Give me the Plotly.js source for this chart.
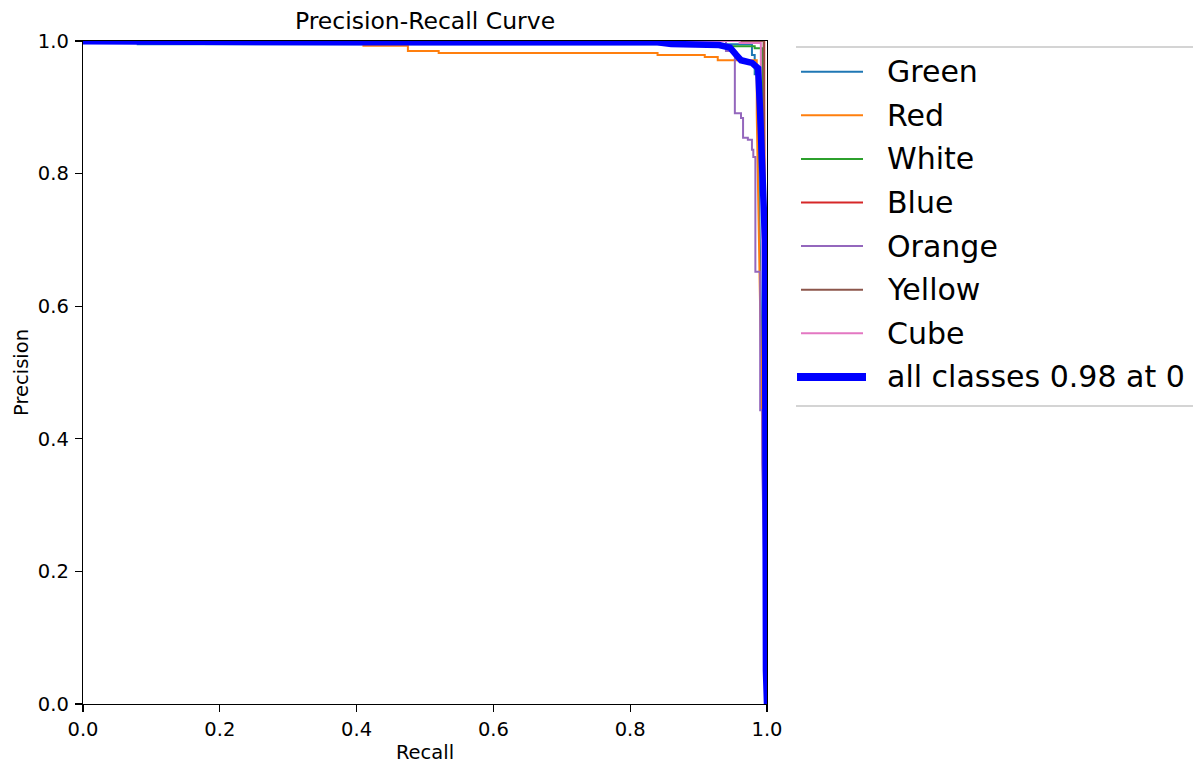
<!DOCTYPE html>
<html>
<head>
<meta charset="utf-8">
<script src="https://cdn.plot.ly/plotly-3.0.1.min.js"></script>
<style>html,body{margin:0;padding:0;background:#fff;}#chart{width:1193px;height:764px;}</style>
</head>
<body>
<div id="chart"></div>
<script>
// ---- data ----
const classNames = ["Green", "Red", "White", "Blue", "Orange", "Yellow", "Cube"];
const classColors = ["#1f77b4", "#ff7f0e", "#2ca02c", "#d62728", "#9467bd", "#8c564b", "#e377c2"];

const greenRecall    = [0, 0.08, 0.08, 0.978, 0.978, 0.982, 0.982, 0.986, 0.986, 1.0];
const greenPrecision = [1, 1, 0.995, 0.995, 0.979, 0.979, 0.95, 0.95, 0.93, 0];

const redRecall    = [0, 0.41, 0.41, 0.475, 0.475, 0.52, 0.52, 0.84, 0.84, 0.909, 0.909, 0.928, 0.928, 0.985, 0.985, 1.0];
const redPrecision = [1, 1, 0.993, 0.993, 0.985, 0.985, 0.982, 0.982, 0.979, 0.979, 0.976, 0.976, 0.971, 0.971, 0.89, 0];

const whiteRecall    = [0, 0.93, 0.93, 0.982, 0.982, 0.993, 1.0];
const whitePrecision = [1, 1, 0.992, 0.992, 0.989, 0.989, 0];

const blueRecall    = [0, 0.996, 0.996, 1.0];
const bluePrecision = [1, 1, 0.92, 0];

const orangeRecall    = [0, 0.94, 0.94, 0.953, 0.953, 0.962, 0.962, 0.965, 0.965, 0.972, 0.972, 0.978, 0.978, 0.98, 0.98, 0.983, 0.983, 0.99, 0.99, 0.993, 0.993, 1.0];
const orangePrecision = [1, 1, 0.985, 0.985, 0.891, 0.891, 0.884, 0.884, 0.854, 0.854, 0.851, 0.851, 0.836, 0.836, 0.825, 0.825, 0.652, 0.652, 0.443, 0.443, 0.363, 0];

const yellowRecall    = [0, 0.995, 0.995, 1.0];
const yellowPrecision = [1, 1, 0.94, 0];

const cubeRecall    = [0, 0.96, 0.96, 0.991, 0.991, 1.0];
const cubePrecision = [1, 1, 0.997, 0.997, 0.945, 0];

const allName = "all classes 0.98 at 0";
const allRecall    = [0, 0.08, 0.41, 0.84, 0.86, 0.93, 0.946, 0.955, 0.962, 0.978, 0.987, 0.99, 0.997, 0.9985, 1.0];
const allPrecision = [0.9995, 0.999, 0.998, 0.998, 0.9955, 0.994, 0.99, 0.979, 0.971, 0.967, 0.959, 0.891, 0.70, 0.05, 0];

const xTicks = [0, 0.2, 0.4, 0.6, 0.8, 1.0];
const yTicks = [0, 0.2, 0.4, 0.6, 0.8, 1.0];

// ---- build ----
const classRecalls = [greenRecall, redRecall, whiteRecall, blueRecall, orangeRecall, yellowRecall, cubeRecall];
const classPrecisions = [greenPrecision, redPrecision, whitePrecision, bluePrecision, orangePrecision, yellowPrecision, cubePrecision];

const FONT = "DejaVu Sans, Liberation Sans, sans-serif";
const traces = classNames.map((n, i) => ({
  type: "scatter", mode: "lines", name: n,
  x: classRecalls[i], y: classPrecisions[i],
  line: {color: classColors[i], width: 2},
  showlegend: false
}));
traces.push({
  type: "scatter", mode: "lines", name: allName,
  x: allRecall, y: allPrecision,
  line: {color: "#0000ff", width: 6.5},
  showlegend: false
});

// plot-area pixel frame
const L = 83, R = 767, T = 41, B = 704, W = 1193, H = 764;
const px = v => (v - L) / (R - L);
const py = v => (B - v) / (B - T);

// hand-made matplotlib-style legend
const shapes = [];
const annotations = [];
const rowY0 = 71.7, rowStep = 43.6;
const legendNames = classNames.concat([allName]);
const legendColors = classColors.concat(["#0000ff"]);
legendNames.forEach((n, i) => {
  const y = rowY0 + i * rowStep;
  const thick = i === legendNames.length - 1;
  shapes.push({type: "line", xref: "paper", yref: "paper",
    x0: px(thick ? 797 : 801), x1: px(thick ? 866 : 863), y0: py(y), y1: py(y),
    line: {color: legendColors[i], width: thick ? 8 : 2}});
  annotations.push({xref: "paper", yref: "paper", x: px(885), y: py(y),
    xanchor: "left", yanchor: "middle", showarrow: false, text: n,
    font: {family: FONT, size: 30, color: "#000"}});
});
[47, 406].forEach(yv => shapes.push({type: "line", xref: "paper", yref: "paper",
  x0: px(796), x1: px(1196), y0: py(yv), y1: py(yv),
  line: {color: "#d4d4d4", width: 2}}));

const axisCommon = {
  range: [0, 1], showgrid: false, zeroline: false,
  showline: true, mirror: true, linecolor: "#000", linewidth: 1.3,
  ticks: "outside", ticklen: 7, tickwidth: 1.3, tickcolor: "#000",
  tickformat: ".1f", tickfont: {family: FONT, size: 19.5, color: "#000"},
  fixedrange: true
};

const layout = {
  width: W, height: H,
  margin: {l: L, r: W - R, t: T, b: H - B, pad: 0},
  paper_bgcolor: "#fff", plot_bgcolor: "#fff",
  font: {family: FONT, color: "#000"},
  title: {text: "Precision-Recall Curve", font: {family: FONT, size: 23.5, color: "#000"},
    x: 0.5, xref: "paper", xanchor: "center", y: 1, yref: "paper", yanchor: "bottom", pad: {b: 12}},
  xaxis: Object.assign({}, axisCommon, {tickvals: xTicks,
    title: {text: "Recall", font: {family: FONT, size: 19.5, color: "#000"}, standoff: 7}}),
  yaxis: Object.assign({}, axisCommon, {tickvals: yTicks, ticklabelstandoff: 2,
    title: {text: "Precision", font: {family: FONT, size: 19.5, color: "#000"}, standoff: 4}}),
  shapes: shapes, annotations: annotations, showlegend: false
};

Plotly.newPlot("chart", traces, layout, {displayModeBar: false, staticPlot: true});
</script>
</body>
</html>
